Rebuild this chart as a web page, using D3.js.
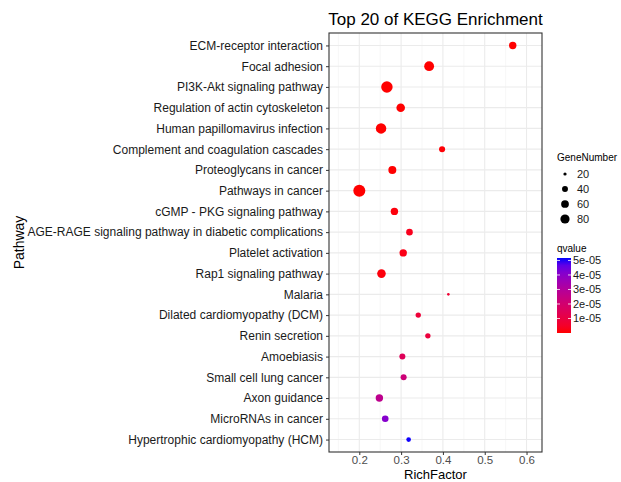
<!DOCTYPE html>
<html>
<head>
<meta charset="utf-8">
<script src="https://cdn.jsdelivr.net/npm/d3@7"></script>
<style>
body { margin: 0; background: #fff; }
svg { font-family: "Liberation Sans", Arial, sans-serif; }
</style>
</head>
<body>
<svg></svg>
<script>
var width = 621;
var height = 482;

// pathways, top to bottom
var pathways = ["ECM-receptor interaction", "Focal adhesion", "PI3K-Akt signaling pathway",
    "Regulation of actin cytoskeleton", "Human papillomavirus infection",
    "Complement and coagulation cascades", "Proteoglycans in cancer", "Pathways in cancer",
    "cGMP - PKG signaling pathway", "AGE-RAGE signaling pathway in diabetic complications",
    "Platelet activation", "Rap1 signaling pathway", "Malaria", "Dilated cardiomyopathy (DCM)",
    "Renin secretion", "Amoebiasis", "Small cell lung cancer", "Axon guidance",
    "MicroRNAs in cancer", "Hypertrophic cardiomyopathy (HCM)"];
var richFactor = [0.567, 0.367, 0.266, 0.299, 0.252, 0.398, 0.279, 0.200, 0.284, 0.320,
    0.305, 0.253, 0.413, 0.341, 0.364, 0.303, 0.306, 0.248, 0.262, 0.318];
var geneNumber = [56, 90, 117, 71, 100, 41, 63, 128, 56, 47,
    56, 71, 17, 35, 35, 41, 41, 56, 47, 29];
var qvalue = [1e-8, 1e-8, 2e-8, 1e-7, 1e-8, 5e-7, 1e-7, 1e-9, 1e-6, 3e-6,
    2e-6, 1e-6, 7e-6, 8e-6, 9e-6, 1.5e-5, 2.2e-5, 2.7e-5, 4.1e-5, 5.15e-5];

var sizeBreaks = [20, 40, 60, 80];
var qBreaks = [1e-5, 2e-5, 3e-5, 4e-5, 5e-5];
var xTicks = [0.2, 0.3, 0.4, 0.5, 0.6];

var panel = {left: 329, right: 542, top: 33, bottom: 452};

var svg = d3.select("svg").attr("width", width).attr("height", height);

var x = d3.scaleLinear().domain([0.1275, 0.637]).range([panel.left, panel.right]);
var y = d3.scalePoint().domain(pathways).range([panel.top, panel.bottom]).padding(0.6);
var r = d3.scaleRadial().domain([17, 128]).range([1.3, 6]);
var color = d3.scaleLinear().domain([0, 5.17e-5]).range(["#FF0000", "#0000FF"])
    .interpolate(d3.interpolateLab);

// grid
var minor = d3.range(0.15, 0.64, 0.1);
svg.selectAll(".minor").data(minor).enter().append("line")
    .attr("x1", d => x(d)).attr("x2", d => x(d))
    .attr("y1", panel.top).attr("y2", panel.bottom)
    .attr("stroke", "#f2f2f2").attr("stroke-width", 0.6);
svg.selectAll(".majorx").data(xTicks).enter().append("line")
    .attr("x1", d => x(d)).attr("x2", d => x(d))
    .attr("y1", panel.top).attr("y2", panel.bottom)
    .attr("stroke", "#ebebeb").attr("stroke-width", 1.1);
svg.selectAll(".majory").data(pathways).enter().append("line")
    .attr("x1", panel.left).attr("x2", panel.right)
    .attr("y1", d => y(d)).attr("y2", d => y(d))
    .attr("stroke", "#ebebeb").attr("stroke-width", 1.1);

// points
var idx = d3.range(pathways.length);
svg.selectAll(".pt").data(idx).enter().append("circle")
    .attr("cx", i => x(richFactor[i]))
    .attr("cy", i => y(pathways[i]))
    .attr("r", i => r(geneNumber[i]))
    .attr("fill", i => color(qvalue[i]));

// border
svg.append("rect")
    .attr("x", panel.left).attr("y", panel.top)
    .attr("width", panel.right - panel.left).attr("height", panel.bottom - panel.top)
    .attr("fill", "none").attr("stroke", "#333").attr("stroke-width", 1.1);

// axes
var xAxis = svg.append("g").attr("transform", "translate(0," + panel.bottom + ")")
    .call(d3.axisBottom(x).tickValues(xTicks).tickSize(3).tickPadding(1).tickFormat(d3.format(".1f")));
xAxis.select(".domain").remove();
xAxis.selectAll("line").attr("stroke", "#333");
xAxis.selectAll("text").attr("fill", "#4d4d4d").style("font-size", "11.5px")
    .style("font-family", "Liberation Sans, Arial, sans-serif");

var yAxis = svg.append("g").attr("transform", "translate(" + panel.left + ",0)")
    .call(d3.axisLeft(y).tickSize(3).tickPadding(3));
yAxis.select(".domain").remove();
yAxis.selectAll("line").attr("stroke", "#333");
yAxis.selectAll("text").attr("fill", "#1a1a1a").style("font-size", "12px")
    .style("font-family", "Liberation Sans, Arial, sans-serif");

// titles
svg.append("text")
    .attr("x", (panel.left + panel.right) / 2).attr("y", 25)
    .attr("text-anchor", "middle")
    .style("font-size", "17px")
    .text("Top 20 of KEGG Enrichment");

svg.append("text")
    .attr("x", (panel.left + panel.right) / 2).attr("y", 479)
    .attr("text-anchor", "middle")
    .style("font-size", "13px")
    .text("RichFactor");

svg.append("text")
    .attr("transform", "translate(24," + ((panel.top + panel.bottom) / 2) + ") rotate(-90)")
    .attr("text-anchor", "middle")
    .style("font-size", "14px")
    .text("Pathway");

// size legend
var lg = svg.append("g").attr("transform", "translate(557,0)");
lg.append("text").attr("x", 0).attr("y", 161).style("font-size", "10px").text("GeneNumber");
var sizeY = d3.scalePoint().domain(sizeBreaks).range([174, 219]);
lg.selectAll(".sz").data(sizeBreaks).enter().append("circle")
    .attr("cx", 8).attr("cy", d => sizeY(d)).attr("r", d => r(d)).attr("fill", "#000");
lg.selectAll(".szl").data(sizeBreaks).enter().append("text")
    .attr("x", 20).attr("y", d => sizeY(d) + 4)
    .style("font-size", "11px").attr("fill", "#1a1a1a")
    .text(d => d);

// colour legend
lg.append("text").attr("x", 0).attr("y", 252).style("font-size", "10px").text("qvalue");
var barTop = 258, barBottom = 333, barW = 14;
var qy = d3.scaleLinear().domain(color.domain()).range([barBottom, barTop]);
var grad = svg.append("defs").append("linearGradient")
    .attr("id", "qgrad").attr("x1", 0).attr("x2", 0).attr("y1", 1).attr("y2", 0);
d3.range(0, 1.01, 0.1).forEach(function(t) {
    grad.append("stop").attr("offset", t)
        .attr("stop-color", color(color.domain()[0] + t * (color.domain()[1] - color.domain()[0])));
});
lg.append("rect").attr("x", 0).attr("y", barTop).attr("width", barW)
    .attr("height", barBottom - barTop).attr("fill", "url(#qgrad)");
lg.selectAll(".qt").data(qBreaks).enter().append("line")
    .attr("x1", 0).attr("x2", 3).attr("y1", d => qy(d)).attr("y2", d => qy(d))
    .attr("stroke", "#fff").attr("stroke-width", 0.8);
lg.selectAll(".qt2").data(qBreaks).enter().append("line")
    .attr("x1", barW - 3).attr("x2", barW).attr("y1", d => qy(d)).attr("y2", d => qy(d))
    .attr("stroke", "#fff").attr("stroke-width", 0.8);
lg.selectAll(".ql").data(qBreaks).enter().append("text")
    .attr("x", barW + 2).attr("y", d => qy(d) + 4)
    .style("font-size", "11px").attr("fill", "#1a1a1a")
    .text(d => d3.format(".0e")(d).replace("e-5", "e-05"));
</script>
</body>
</html>
